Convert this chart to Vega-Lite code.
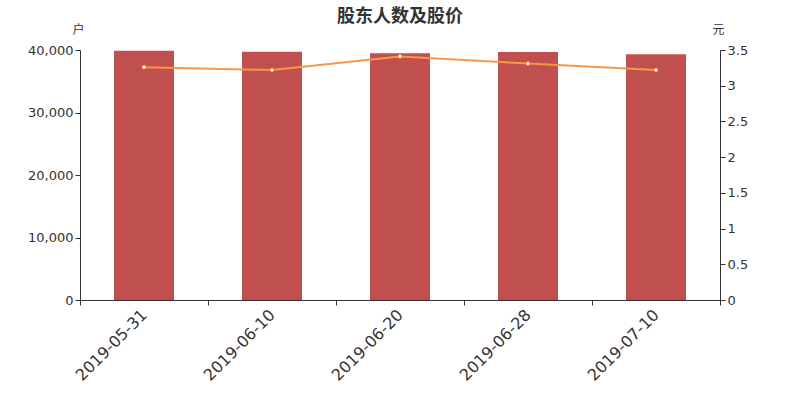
{
  "$schema": "https://vega.github.io/schema/vega-lite/v6.json",
  "autosize": {"type": "none"},
  "width": 640,
  "height": 250,
  "padding": {"left": 80, "top": 50, "right": 80, "bottom": 100},
  "background": "white",
  "title": {"text": "股东人数及股价", "fontSize": 18, "fontWeight": "bold", "color": "#333333", "font": "Noto Sans CJK SC", "offset": -3, "anchor": "middle"},
  "config": {"view": {"stroke": null}, "axis": {"labelFont": "DejaVu Sans", "titleFont": "Noto Sans CJK SC", "labelColor": "#333333", "domainColor": "#333333", "tickColor": "#333333", "grid": false}},
  "data": {"values": [
    {"date": "2019-05-31", "holders": 39880, "price": 3.26},
    {"date": "2019-06-10", "holders": 39720, "price": 3.22},
    {"date": "2019-06-20", "holders": 39480, "price": 3.41},
    {"date": "2019-06-28", "holders": 39700, "price": 3.31},
    {"date": "2019-07-10", "holders": 39320, "price": 3.22}
  ]},
  "encoding": {
    "x": {"field": "date", "type": "nominal", "sort": null, "scale": {"paddingInner": 0, "paddingOuter": 0},
      "axis": {"title": null, "labelAngle": -45, "labelAlign": "right", "labelBaseline": "middle", "labelFontSize": 16, "tickBand": "extent", "tickSize": 5, "labelPadding": 7}}
  },
  "layer": [
    {"mark": {"type": "bar", "color": "#c0504d", "width": 60},
     "encoding": {"y": {"field": "holders", "type": "quantitative", "scale": {"domain": [0, 40000]},
       "axis": {"title": "户", "titleAngle": 0, "titleX": -2, "titleY": -14, "titleAlign": "center", "titleFontSize": 12, "titleFontWeight": "normal", "titleColor": "#333333", "format": ",d", "values": [0, 10000, 20000, 30000, 40000], "labelFontSize": 13, "tickSize": 5}}}},
    {"mark": {"type": "line", "color": "#f79646", "strokeWidth": 2, "point": {"filled": true, "fill": "white", "stroke": "#f79646", "strokeWidth": 1, "size": 14}},
     "encoding": {"y": {"field": "price", "type": "quantitative", "scale": {"domain": [0, 3.5]},
       "axis": {"orient": "right", "title": "元", "titleAngle": 0, "titleX": -2, "titleY": -14, "titleAlign": "center", "titleFontSize": 12, "titleFontWeight": "normal", "titleColor": "#333333", "format": "~g", "values": [0, 0.5, 1, 1.5, 2, 2.5, 3, 3.5], "labelFontSize": 13, "tickSize": 5}}}}
  ],
  "resolve": {"scale": {"y": "independent"}}
}
